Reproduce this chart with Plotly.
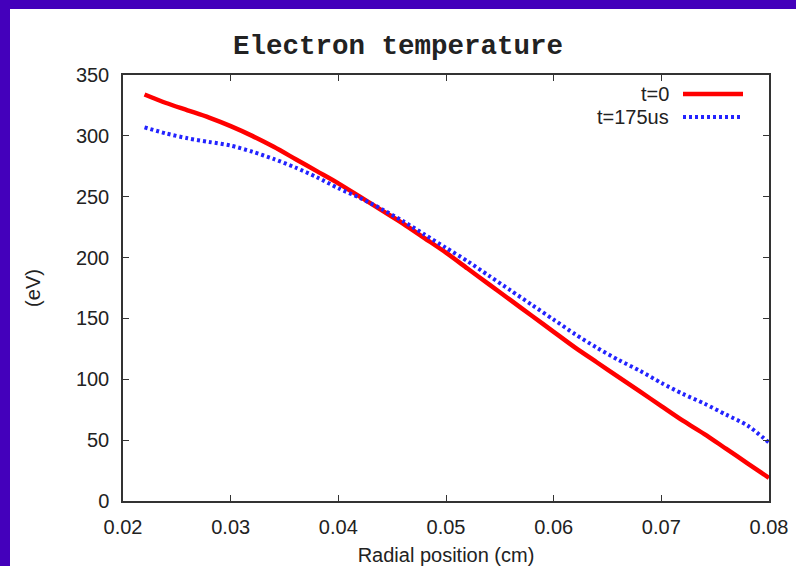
import plotly.graph_objects as go

# ---- data ----
radius_cm = [0.022, 0.024, 0.026, 0.028, 0.030, 0.032, 0.034, 0.036, 0.038, 0.040,
             0.042, 0.044, 0.046, 0.048, 0.050, 0.052, 0.054, 0.056, 0.058, 0.060,
             0.062, 0.064, 0.066, 0.068, 0.070, 0.072, 0.074, 0.076, 0.078, 0.080]
te_t0 = [334, 327, 321, 315, 308, 300, 291, 281, 271, 261,
         250, 239, 228, 216, 204, 191, 178, 165, 152, 139,
         126, 114, 102, 90, 78, 66, 55, 43, 31, 19]
te_t175 = [307, 302, 298, 295, 292, 287, 281, 274, 266, 257,
           249, 240, 230, 219, 208, 197, 185, 173, 161, 149,
           137, 126, 116, 107, 97, 88, 80, 71, 62, 48]

series_names = ["t=0", "t=175us"]
x_ticks = [0.02, 0.03, 0.04, 0.05, 0.06, 0.07, 0.08]
x_ticktext = ["0.02", "0.03", "0.04", "0.05", "0.06", "0.07", "0.08"]
y_ticks = [0, 50, 100, 150, 200, 250, 300, 350]

RED = "#ff0000"
BLUE = "#2323ff"
PURPLE = "#4400bb"
W, H = 796, 566
L, R, T, B = 123, 27, 75, 65
PW, PH = W - L - R, H - T - B


def px_x(p):
    return (p - L) / PW


def px_y(p):
    return (H - B - p) / PH


fig = go.Figure()
fig.add_trace(go.Scatter(x=radius_cm, y=te_t0, mode="lines", name=series_names[0],
                         line=dict(color=RED, width=4.5, shape="spline", smoothing=0.8),
                         showlegend=False))
fig.add_trace(go.Scatter(x=radius_cm, y=te_t175, mode="lines", name=series_names[1],
                         line=dict(color=BLUE, width=4, dash="3px,3px", shape="spline", smoothing=0.8),
                         showlegend=False))

tick_font = dict(family="Liberation Sans, Arial, sans-serif", size=20, color="#222222")
axis_common = dict(showgrid=False, zeroline=False, showline=True, linecolor="#333333",
                   linewidth=1.5, mirror="ticks", ticks="inside", ticklen=6,
                   tickcolor="#333333", tickwidth=1, tickfont=tick_font)

fig.update_xaxes(range=[0.02, 0.08], tickvals=x_ticks, ticktext=x_ticktext,
                 ticklabelstandoff=7,
                 title=dict(text="Radial position (cm)", font=tick_font, standoff=13),
                 **axis_common)
fig.update_yaxes(range=[0, 350], tickvals=y_ticks, ticklabelstandoff=8,
                 title=dict(text="(eV)", font=tick_font, standoff=30),
                 **axis_common)

shapes = [
    # purple frame strips (left and top)
    dict(type="rect", xref="paper", yref="paper", x0=px_x(-5), x1=px_x(10),
         y0=px_y(H + 5), y1=px_y(-5), fillcolor=PURPLE, line=dict(width=0), layer="below"),
    dict(type="rect", xref="paper", yref="paper", x0=px_x(-5), x1=px_x(W),
         y0=px_y(9), y1=px_y(-5), fillcolor=PURPLE, line=dict(width=0), layer="below"),
    # legend samples
    dict(type="line", xref="paper", yref="paper", x0=px_x(683), x1=px_x(743),
         y0=px_y(94), y1=px_y(94), line=dict(color=RED, width=4.5)),
    dict(type="line", xref="paper", yref="paper", x0=px_x(683), x1=px_x(741),
         y0=px_y(117), y1=px_y(117), line=dict(color=BLUE, width=4, dash="3px,3px")),
]
annotations = [
    dict(text=series_names[0], xref="paper", yref="paper", x=px_x(671), y=px_y(94),
         xanchor="right", yanchor="middle", showarrow=False, font=tick_font),
    dict(text=series_names[1], xref="paper", yref="paper", x=px_x(671), y=px_y(117),
         xanchor="right", yanchor="middle", showarrow=False, font=tick_font),
]

fig.update_layout(
    width=W, height=H,
    margin=dict(l=L, r=R, t=T, b=B, autoexpand=False),
    paper_bgcolor="white", plot_bgcolor="white",
    title=dict(text="<b>Electron temperature</b>", x=px_x(446), xanchor="center",
               y=1 - 44 / H, yanchor="middle",
               font=dict(family="Liberation Mono, Courier New, monospace", size=27.5, color="#222222")),
    shapes=shapes, annotations=annotations,
)

fig.write_html("out.html", config={"displayModeBar": False},
               post_script="document.body.style.margin='0';document.body.style.overflow='hidden';")
